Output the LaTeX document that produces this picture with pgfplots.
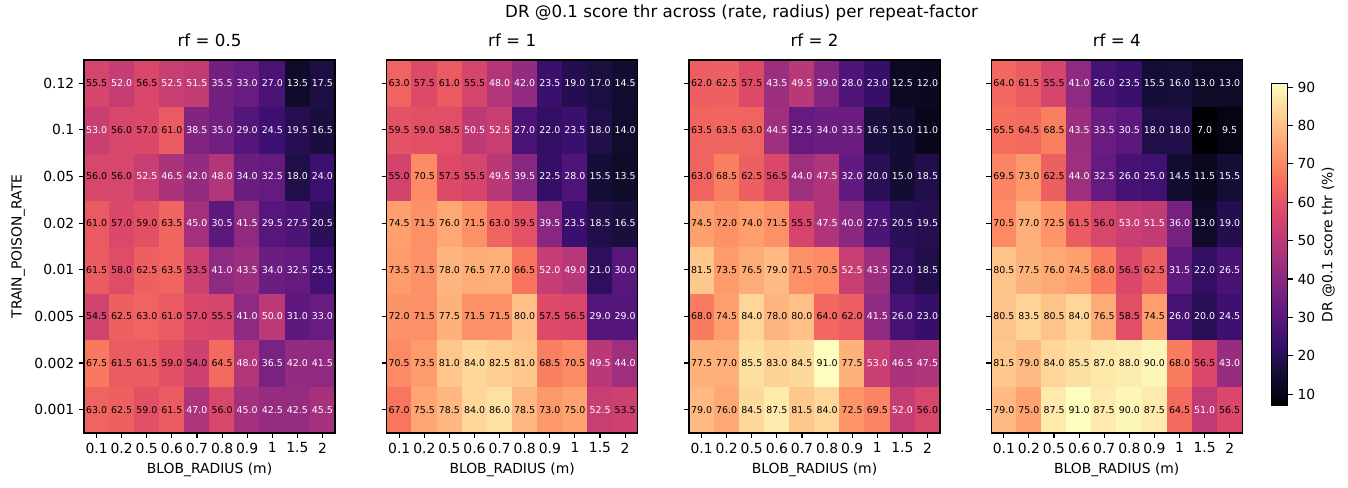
\documentclass[border=0pt]{standalone}
\usepackage{fontspec}
\setmainfont{DejaVu Sans}
\usepackage{pgfplots}
\usepackage{pgfplotstable}
\pgfplotsset{compat=1.18}

\pgfplotsset{
  colormap={magma}{
    rgb255=(0,0,4) rgb255=(20,14,54) rgb255=(59,15,112) rgb255=(100,26,128)
    rgb255=(140,41,129) rgb255=(183,55,121) rgb255=(222,73,104) rgb255=(247,112,92)
    rgb255=(254,159,109) rgb255=(254,207,146) rgb255=(252,253,191)},
  /pgf/number format/assume math mode=true,
  hm/.style={
    scale only axis, width=180.72pt, height=268.56pt,
    xmin=-0.5, xmax=9.5, ymin=-0.5, ymax=7.5,
    enlargelimits=false, axis on top,
    colormap name=magma, point meta min=7, point meta max=91,
    xtick={0,...,9}, xticklabels={0.1,0.2,0.5,0.6,0.7,0.8,0.9,1,1.5,2},
    ytick={0,...,7}, yticklabels={},
    tick align=outside, xtick pos=left, ytick pos=left,
    major tick length=3.5pt, tick style={black, line width=0.8pt},
    axis line style={line width=0.8pt},
    xlabel={BLOB\_RADIUS (m)},
    tick label style={font=\fontsize{10}{12}\selectfont},
    label style={font=\fontsize{10}{12}\selectfont},
    title style={font=\fontsize{12}{14}\selectfont, yshift=0pt},
  },
  labs/.style={only marks, mark=none, point meta=explicit symbolic,
    nodes near coords={\ifdim\pgfplotspointmeta pt<53.25pt\color{white}\else\color{black}\fi\pgfplotspointmeta},
    every node near coord/.append style={anchor=center, inner sep=0pt,
      font=\fontsize{6.8}{7}\selectfont}},
}

% x: BLOB_RADIUS index (0.1,0.2,0.5,0.6,0.7,0.8,0.9,1,1.5,2)
% y: TRAIN_POISON_RATE index (0.001,0.002,0.005,0.01,0.02,0.05,0.1,0.12)
% a: rf=0.5, b: rf=1, c: rf=2, d: rf=4
\pgfplotstableread{
x y a b c d
0 0 63.0 67.0 79.0 79.0
1 0 62.5 75.5 76.0 75.0
2 0 59.0 78.5 84.5 87.5
3 0 61.5 84.0 87.5 91.0
4 0 47.0 86.0 81.5 87.5
5 0 56.0 78.5 84.0 90.0
6 0 45.0 73.0 72.5 87.5
7 0 42.5 75.0 69.5 64.5
8 0 42.5 52.5 52.0 51.0
9 0 45.5 53.5 56.0 56.5
0 1 67.5 70.5 77.5 81.5
1 1 61.5 73.5 77.0 79.0
2 1 61.5 81.0 85.5 84.0
3 1 59.0 84.0 83.0 85.5
4 1 54.0 82.5 84.5 87.0
5 1 64.5 81.0 91.0 88.0
6 1 48.0 68.5 77.5 90.0
7 1 36.5 70.5 53.0 68.0
8 1 42.0 49.5 46.5 56.5
9 1 41.5 44.0 47.5 43.0
0 2 54.5 72.0 68.0 80.5
1 2 62.5 71.5 74.5 83.5
2 2 63.0 77.5 84.0 80.5
3 2 61.0 71.5 78.0 84.0
4 2 57.0 71.5 80.0 76.5
5 2 55.5 80.0 64.0 58.5
6 2 41.0 57.5 62.0 74.5
7 2 50.0 56.5 41.5 26.0
8 2 31.0 29.0 26.0 20.0
9 2 33.0 29.0 23.0 24.5
0 3 61.5 73.5 81.5 80.5
1 3 58.0 71.5 73.5 77.5
2 3 62.5 78.0 76.5 76.0
3 3 63.5 76.5 79.0 74.5
4 3 53.5 77.0 71.5 68.0
5 3 41.0 66.5 70.5 56.5
6 3 43.5 52.0 52.5 62.5
7 3 34.0 49.0 43.5 31.5
8 3 32.5 21.0 22.0 22.0
9 3 25.5 30.0 18.5 26.5
0 4 61.0 74.5 74.5 70.5
1 4 57.0 71.5 72.0 77.0
2 4 59.0 76.0 74.0 72.5
3 4 63.5 71.5 71.5 61.5
4 4 45.0 63.0 55.5 56.0
5 4 30.5 59.5 47.5 53.0
6 4 41.5 39.5 40.0 51.5
7 4 29.5 23.5 27.5 36.0
8 4 27.5 18.5 20.5 13.0
9 4 20.5 16.5 19.5 19.0
0 5 56.0 55.0 63.0 69.5
1 5 56.0 70.5 68.5 73.0
2 5 52.5 57.5 62.5 62.5
3 5 46.5 55.5 56.5 44.0
4 5 42.0 49.5 44.0 32.5
5 5 48.0 39.5 47.5 26.0
6 5 34.0 22.5 32.0 25.0
7 5 32.5 28.0 20.0 14.5
8 5 18.0 15.5 15.0 11.5
9 5 24.0 13.5 18.5 15.5
0 6 53.0 59.5 63.5 65.5
1 6 56.0 59.0 63.5 64.5
2 6 57.0 58.5 63.0 68.5
3 6 61.0 50.5 44.5 43.5
4 6 38.5 52.5 32.5 33.5
5 6 35.0 27.0 34.0 30.5
6 6 29.0 22.0 33.5 18.0
7 6 24.5 23.5 16.5 18.0
8 6 19.5 18.0 15.0 7.0
9 6 16.5 14.0 11.0 9.5
0 7 55.5 63.0 62.0 64.0
1 7 52.0 57.5 62.5 61.5
2 7 56.5 61.0 57.5 55.5
3 7 52.5 55.5 43.5 41.0
4 7 51.5 48.0 49.5 26.0
5 7 35.5 42.0 39.0 23.5
6 7 33.0 23.5 28.0 15.5
7 7 27.0 19.0 23.0 16.0
8 7 13.5 17.0 12.5 13.0
9 7 17.5 14.5 12.0 13.0
}\hmdata

\begin{document}
\begin{tikzpicture}
\useasboundingbox (0pt,0pt) rectangle (970.56pt,350.64pt);

\node[font=\fontsize{12}{14}\selectfont] at (533.9pt,341.0pt)
  {DR @0.1 score thr across (rate, radius) per repeat-factor};

\begin{axis}[hm, at={(60.5pt,38.9pt)}, anchor=south west,
  title={rf = 0.5},
  yticklabels={0.001,0.002,0.005,0.01,0.02,0.05,0.1,0.12},
  ylabel={TRAIN\_POISON\_RATE}]
\addplot[matrix plot*, mesh/cols=10, point meta=explicit] table[x=x, y=y, meta=a] {\hmdata};
\addplot[labs] table[x=x, y=y, meta=a] {\hmdata};
\end{axis}

\begin{axis}[hm, at={(278.4pt,38.9pt)}, anchor=south west, title={rf = 1}]
\addplot[matrix plot*, mesh/cols=10, point meta=explicit] table[x=x, y=y, meta=b] {\hmdata};
\addplot[labs] table[x=x, y=y, meta=b] {\hmdata};
\end{axis}

\begin{axis}[hm, at={(496.1pt,38.9pt)}, anchor=south west, title={rf = 2}]
\addplot[matrix plot*, mesh/cols=10, point meta=explicit] table[x=x, y=y, meta=c] {\hmdata};
\addplot[labs] table[x=x, y=y, meta=c] {\hmdata};
\end{axis}

\begin{axis}[hm, at={(713.7pt,38.9pt)}, anchor=south west, title={rf = 4},
  colorbar,
  colorbar style={at={(parent axis.north east)}, anchor=north west,
    xshift=12.2pt, yshift=-16.8pt, scale only axis,
    width=12.0pt, height=232.1pt,
    ytick={10,20,...,90}, yticklabel pos=right, ytick pos=right,
    tick align=outside, major tick length=3.5pt,
    tick style={black, line width=0.8pt},
    axis line style={line width=0.8pt},
    tick label style={font=\fontsize{10}{12}\selectfont},
    ylabel={DR @0.1 score thr (\%)}, ylabel near ticks, ylabel shift=-2pt,
    label style={font=\fontsize{10}{12}\selectfont}}]
\addplot[matrix plot*, mesh/cols=10, point meta=explicit] table[x=x, y=y, meta=d] {\hmdata};
\addplot[labs] table[x=x, y=y, meta=d] {\hmdata};
\end{axis}
\end{tikzpicture}
\end{document}
